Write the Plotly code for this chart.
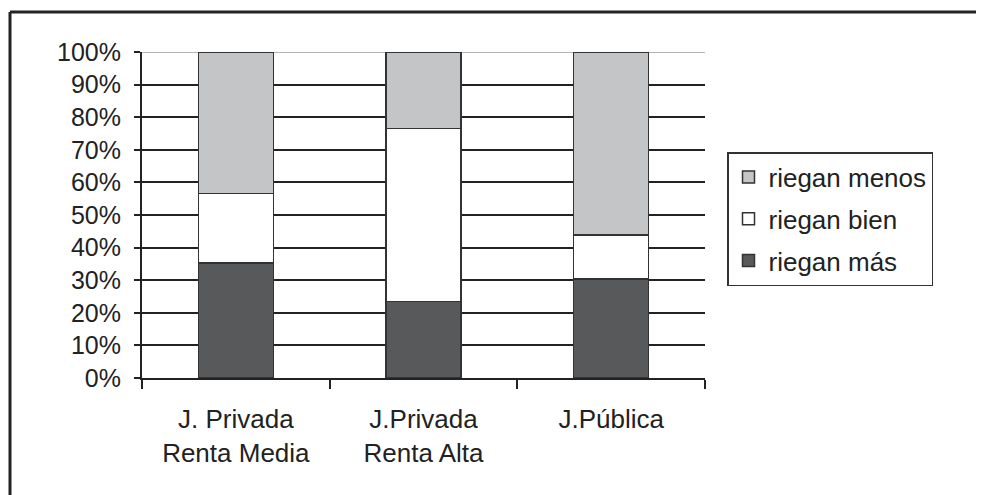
import plotly.graph_objects as go

categories = ["J. Privada<br>Renta Media", "J.Privada<br>Renta Alta", "J.Pública"]
riegan_mas = [35.3, 23.5, 30.3]
riegan_bien = [21.3, 53.0, 13.5]
riegan_menos = [43.4, 23.5, 56.2]
y_ticks = [0, 10, 20, 30, 40, 50, 60, 70, 80, 90, 100]
y_tick_labels = [f"{v}%" for v in y_ticks]

FONT = "Liberation Sans, Arial, sans-serif"
EDGE = "#333333"

fig = go.Figure()
series = [
    ("riegan más", riegan_mas, "#58595b", 3),
    ("riegan bien", riegan_bien, "#ffffff", 2),
    ("riegan menos", riegan_menos, "#c4c5c7", 1),
]
for name, vals, color, rank in series:
    fig.add_trace(go.Bar(
        x=categories, y=vals, name=name, legendgroup=name, legendrank=rank,
        marker=dict(color=color, line=dict(color=EDGE, width=1.5)),
        hoverinfo="skip",
    ))

# page has an 8px body margin, so the figure is laid out in page px minus 8
OFF = 8
W, H = 984 - OFF, 495 - OFF
L, R, T, B = 142 - OFF, 279, 52 - OFF, 117
pw, ph = W - L - R, H - T - B

def px_x(x):
    return (x - OFF - L) / pw

def px_y(y):
    return (H - B - (y - OFF)) / ph

fig.update_layout(
    width=W, height=H,
    margin=dict(l=L, r=R, t=T, b=B, pad=0),
    paper_bgcolor="white", plot_bgcolor="white",
    barmode="stack", bargap=0.6,
    font=dict(family=FONT, size=25, color="#222222"),
    showlegend=True,
    legend=dict(
        x=px_x(727), y=px_y(152), xanchor="left", yanchor="top",
        bordercolor="#333333", borderwidth=1.5, bgcolor="white",
        font=dict(family=FONT, size=26, color="#222222"),
        traceorder="grouped", tracegroupgap=5,
        itemclick=False, itemdoubleclick=False,
    ),
    xaxis=dict(
        type="category", showgrid=False, showline=True, linecolor="#222222", linewidth=2,
        ticks="outside", tickson="boundaries", ticklen=9, tickwidth=1.5, tickcolor="#222222",
        tickfont=dict(family=FONT, size=26, color="#222222"),
        ticklabelstandoff=17,
        fixedrange=True,
    ),
    yaxis=dict(
        range=[0, 100], tickvals=y_ticks, ticktext=y_tick_labels,
        showgrid=True, gridcolor="#222222", gridwidth=1.5,
        showline=True, linecolor="#222222", linewidth=2,
        ticks="outside", ticklen=6, tickwidth=1.5, tickcolor="#222222",
        tickfont=dict(family=FONT, size=25, color="#222222"),
        ticklabelstandoff=8,
        zeroline=False, fixedrange=True,
    ),
    shapes=[
        dict(type="line", xref="x domain", yref="y", x0=0, x1=1, y0=100, y1=100,
             line=dict(color="#b5b5b5", width=2), layer="below"),
        dict(type="line", xref="paper", yref="paper", x0=px_x(10), x1=px_x(1000),
             y0=px_y(12), y1=px_y(12), line=dict(color="#222222", width=3)),
        dict(type="line", xref="paper", yref="paper", x0=px_x(10), x1=px_x(10),
             y0=px_y(12), y1=px_y(510), line=dict(color="#222222", width=3)),
    ],
)

fig.write_html("out.html", config={"displayModeBar": False})
